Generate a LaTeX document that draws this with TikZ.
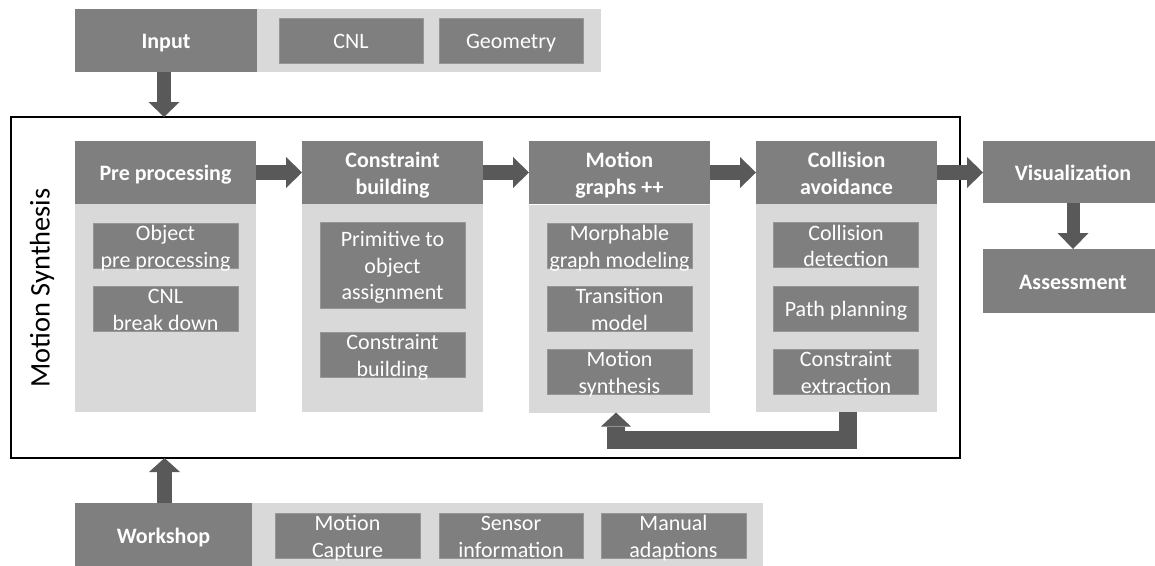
\documentclass[tikz,border=0pt]{standalone}
\usepackage{fontspec}
\setmainfont{Carlito}
\usetikzlibrary{arrows.meta}
\definecolor{hdrgray}{HTML}{7F7F7F}
\definecolor{bodygray}{HTML}{D9D9D9}
\definecolor{arrgray}{HTML}{595959}
\definecolor{subedge}{HTML}{969696}
\newcommand{\mystrt}{\rule[-5pt]{0pt}{26.6pt}}
\begin{document}
\begin{tikzpicture}[x=1pt,y=-1pt,
  every node/.style={inner sep=0pt, outer sep=0pt, text=white, align=center,
    font=\fontsize{22}{26.6}\selectfont},
  hdr/.style={fill=hdrgray, font=\fontsize{22}{26.6}\selectfont\bfseries},
  bodybox/.style={fill=bodygray},
  subbox/.style={fill=hdrgray, draw=subedge, line width=0.8pt, minimum width=145pt, minimum height=45pt},
  subtxt/.style={text=white},
  bigarrow/.style={draw=arrgray, line width=15pt,
    -{Triangle[length=16pt,width=31pt,line width=0pt 0 0]}},
]
\useasboundingbox (0,0) rectangle (1155,565);
\clip (0,0) rectangle (1155,565);

% ---------- top row ----------
\node[bodybox, minimum width=344pt, minimum height=63pt] (inbg) at (429,40.5) {};
\node[hdr, minimum width=182pt, minimum height=63pt] (input) at (166,40.5) {\mystrt Input};
\node[subbox, minimum width=144pt] (cnl) at (351,40.5) {};
\node[subtxt] (cnlt) at (cnl) {\mystrt CNL};
\node[subbox, minimum width=144pt] (geo) at (511,40.5) {};
\node[subtxt] (geot) at (geo) {\mystrt Geometry};

% ---------- main frame ----------
\node[draw=black, line width=2.5pt, minimum width=949pt, minimum height=341pt] (main) at (485.5,287.5) {};
\node[text=black, rotate=90, font=\fontsize{28.4}{34}\selectfont] (ms) at (42,288) {Motion Synthesis};

% ---------- columns ----------
\node[bodybox, minimum width=181pt, minimum height=208pt] (b1) at (165.5,308) {};
\node[bodybox, minimum width=181pt, minimum height=208pt] (b2) at (392.5,308) {};
\node[bodybox, minimum width=181pt, minimum height=208pt] (b3) at (619.5,308.5) {};
\node[bodybox, minimum width=181pt, minimum height=208pt] (b4) at (846.5,308) {};

\node[hdr, minimum width=181pt, minimum height=63pt] (h1) at (165.5,172.5) {\mystrt Pre processing};
\node[hdr, minimum width=181pt, minimum height=63pt] (h2) at (392.5,172.5) {\mystrt Constraint\\\mystrt building};
\node[hdr, minimum width=181pt, minimum height=63pt] (h3) at (619.5,172.5) {\mystrt Motion\\\mystrt graphs ++};
\node[hdr, minimum width=181pt, minimum height=63pt] (h4) at (846.5,172.5) {\mystrt Collision\\\mystrt avoidance};

% column 1
\node[subbox] (s11) at (165.5,245.5) {};
\node[subtxt] (t11) at (s11) {\mystrt Object\\\mystrt pre processing};
\node[subbox] (s12) at (165.5,308.5) {};
\node[subtxt] (t12) at (s12) {\mystrt CNL\\\mystrt break down};
% column 2
\node[subbox, minimum height=86pt] (s21) at (392.5,265) {};
\node[subtxt] (t21) at (s21) {\mystrt Primitive to\\\mystrt object\\\mystrt assignment};
\node[subbox] (s22) at (392.5,354.5) {};
\node[subtxt] (t22) at (s22) {\mystrt Constraint\\\mystrt building};
% column 3
\node[subbox] (s31) at (619.5,245.5) {};
\node[subtxt] (t31) at (s31) {\mystrt Morphable\\\mystrt graph modeling};
\node[subbox] (s32) at (619.5,308.5) {};
\node[subtxt] (t32) at (s32) {\mystrt Transition\\\mystrt model};
\node[subbox] (s33) at (619.5,371.5) {};
\node[subtxt] (t33) at (s33) {\mystrt Motion\\\mystrt synthesis};
% column 4
\node[subbox] (s41) at (846,245) {};
\node[subtxt] (t41) at (s41) {\mystrt Collision\\\mystrt detection};
\node[subbox] (s42) at (846,308.5) {};
\node[subtxt] (t42) at (s42) {\mystrt Path planning};
\node[subbox] (s43) at (846,371.5) {};
\node[subtxt] (t43) at (s43) {\mystrt Constraint\\\mystrt extraction};

% ---------- right side ----------
\node[hdr, minimum width=180pt, minimum height=62pt] (vis) at (1073,172) {\mystrt Visualization};
\node[hdr, minimum width=180pt, minimum height=64pt] (ass) at (1073,281) {\mystrt Assessment};

% ---------- bottom row ----------
\node[bodybox, minimum width=511pt, minimum height=65pt] (wsbg) at (507.5,535.5) {};
\node[hdr, minimum width=177pt, minimum height=65pt] (ws) at (163.5,535.5) {\mystrt Workshop};
\node[subbox] (mc) at (347.5,535.5) {};
\node[subtxt] (mct) at (mc) {\mystrt Motion\\\mystrt Capture};
\node[subbox, minimum width=144pt] (si) at (511,535.5) {};
\node[subtxt] (sit) at (si) {\mystrt Sensor\\\mystrt information};
\node[subbox] (ma) at (673.5,535.5) {};
\node[subtxt] (mat) at (ma) {\mystrt Manual\\\mystrt adaptions};

% ---------- arrows ----------
\draw[bigarrow] (h1.east) -- (h2.west);
\draw[bigarrow] (h2.east) -- (h3.west);
\draw[bigarrow] (h3.east) -- (h4.west);
\draw[bigarrow] (h4.east) -- (h4.east -| vis.west);
\draw[bigarrow, line width=14pt, -{Triangle[length=15pt,width=31pt,line width=0pt 0 0]}]
  ([xshift=-2pt]input.south) -- ([xshift=-2pt]input.south |- main.north);
\draw[bigarrow, line width=15pt, -{Triangle[length=14pt,width=31pt,line width=0pt 0 0]}]
  ([xshift=1pt]ws.north) -- ([xshift=1pt]ws.north |- main.south);
\draw[bigarrow, line width=13pt, -{Triangle[length=16pt,width=31pt,line width=0pt 0 0]}]
  (vis.south) -- (ass.north);
\draw[bigarrow, line width=18pt, -{Triangle[length=14pt,width=30pt,line width=0pt 0 0]}]
  ([xshift=1.5pt]b4.south) -- ++(0,28) -| ([xshift=-3.5pt]b3.south);
\end{tikzpicture}
\end{document}
